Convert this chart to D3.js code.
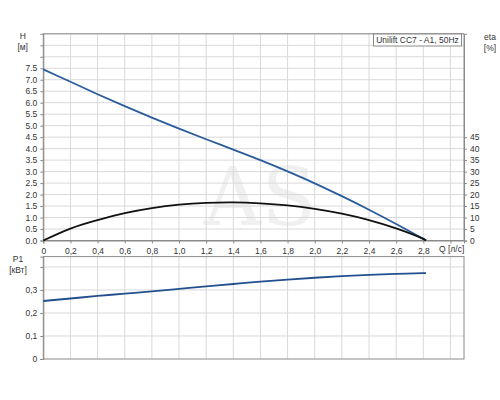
<!DOCTYPE html>
<html><head><meta charset="utf-8">
<script src="https://cdn.jsdelivr.net/npm/d3@7"></script>
<style>body{margin:0;background:#fff}svg text{font-family:"Liberation Sans",Arial,sans-serif}</style>
</head><body><svg id="c" width="500" height="400"></svg>
<script>
const qTicks = [0,0.2,0.4,0.6,0.8,1.0,1.2,1.4,1.6,1.8,2.0,2.2,2.4,2.6,2.8];
const qLabels = ["0","0,2","0,4","0,6","0,8","1,0","1,2","1,4","1,6","1,8","2,0","2,2","2,4","2,6","2,8"];
const hTicks = [0,0.5,1,1.5,2,2.5,3,3.5,4,4.5,5,5.5,6,6.5,7,7.5];
const etaTicks = [0,5,10,15,20,25,30,35,40,45];
const pTicks = [0,0.1,0.2,0.3];
const pLabels = ["0","0,1","0,2","0,3"];

const qPts   = [0,0.2,0.4,0.6,0.8,1.0,1.2,1.4,1.6,1.8,2.0,2.2,2.4,2.6,2.8,2.82];
const hVals  = [7.45,6.91,6.37,5.85,5.35,4.87,4.41,3.96,3.50,3.01,2.49,1.93,1.34,0.72,0.07,0];
const etaVals= [0,5.2,8.9,11.9,14.1,15.6,16.4,16.6,16.2,15.3,13.8,11.7,8.9,5.3,0.7,0];
const pVals  = [0.252,0.263,0.274,0.284,0.294,0.305,0.316,0.326,0.336,0.345,0.353,0.360,0.366,0.370,0.373,0.373];

const svg = d3.select("#c");
const L = 43.3, R = 464;
const x = d3.scaleLinear().domain([0,3.1]).range([L,R]);
const yH = d3.scaleLinear().domain([0,9]).range([240.5,33.8]);
const yE = d3.scaleLinear().domain([0,90]).range([240.5,33.8]);
const yP = d3.scaleLinear().domain([0,0.445]).range([359,256.6]);
const gridC = "#d9d9d9", frameC = "#8a8a8a", txtC = "#333";
const fs = 8.5;

// watermark
svg.append("text").attr("x",260).attr("y",225).attr("text-anchor","middle")
  .attr("font-size",80).attr("fill","#f0f0f0")
  .style("font-family","'DejaVu Serif',serif").text("AS");

function panel(y, yTicksGrid, top, bottom){
  const g = svg.append("g");
  g.selectAll(".vg").data(d3.range(1,16).map(i=>i*0.2)).join("line")
    .attr("x1",d=>x(d)).attr("x2",d=>x(d)).attr("y1",top).attr("y2",bottom)
    .attr("stroke",gridC).attr("stroke-width",1);
  g.selectAll(".hg").data(yTicksGrid).join("line")
    .attr("x1",L).attr("x2",R).attr("y1",d=>y(d)).attr("y2",d=>y(d))
    .attr("stroke",gridC).attr("stroke-width",1);
  g.append("rect").attr("x",L).attr("y",top).attr("width",R-L).attr("height",bottom-top)
    .attr("fill","none").attr("stroke",frameC).attr("stroke-width",1);
  return g;
}

const hGrid = d3.range(1,19).map(i=>i*0.5);
panel(yH, hGrid, 33.8, 240.5);
const pGrid = [0.1,0.2,0.3,0.4];
panel(yP, pGrid, 256.6, 359);

const axH = d3.axisLeft(yH).tickValues(hTicks.concat([8,8.5])).tickSize(3)
  .tickFormat(d=> d<=7.5 ? d.toFixed(1) : "");
const gH = svg.append("g").attr("transform",`translate(${L},0)`).call(axH);
const axE = d3.axisRight(yE).tickValues(etaTicks).tickSize(3).tickFormat(d3.format("d"));
const gE = svg.append("g").attr("transform",`translate(${R},0)`).call(axE);
const axQ = d3.axisBottom(x).tickValues(qTicks.concat([3.0])).tickSize(3)
  .tickFormat(d=>{const i=qTicks.indexOf(d);return i>=0?qLabels[i]:"";});
const gQ = svg.append("g").attr("transform",`translate(0,240.5)`).call(axQ);
const axP = d3.axisLeft(yP).tickValues(pTicks.concat([0.4])).tickSize(3)
  .tickFormat(d=>{const i=pTicks.indexOf(d);return i>=0?pLabels[i]:"";});
const gP = svg.append("g").attr("transform",`translate(${L},0)`).call(axP);

[gH,gE,gQ,gP].forEach(g=>{
  g.select(".domain").attr("stroke",frameC);
  g.selectAll(".tick line").attr("stroke",frameC);
  g.selectAll(".tick text").attr("fill",txtC).attr("font-size",fs)
    .style("font-family","'Liberation Sans',Arial,sans-serif");
});
gQ.selectAll(".tick text").attr("dy","0.9em");

const pts = (vals,y)=>qPts.map((q,i)=>[x(q),y(vals[i])]);
const line = d3.line().curve(d3.curveCatmullRom.alpha(0.5));
svg.append("path").attr("d",line(pts(hVals,yH))).attr("fill","none").attr("stroke","#2b5c9b").attr("stroke-width",1.8);
svg.append("path").attr("d",line(pts(etaVals,yE))).attr("fill","none").attr("stroke","#111").attr("stroke-width",1.8);
svg.append("path").attr("d",line(pts(pVals,yP))).attr("fill","none").attr("stroke","#22508e").attr("stroke-width",1.8);

function lbl(xp,yp,t,anchor){svg.append("text").attr("x",xp).attr("y",yp).attr("text-anchor",anchor||"middle")
  .attr("font-size",fs).attr("fill",txtC).text(t);}
lbl(22.7,39,"H"); lbl(22.7,50,"[м]");
lbl(490,40,"eta"); lbl(490,51,"[%]");
lbl(18,262,"P1"); lbl(18,273,"[кВт]");
lbl(439,252,"Q [л/с]","start");

svg.append("rect").attr("x",373.5).attr("y",34).attr("width",88).attr("height",12)
  .attr("fill","#fff").attr("stroke",frameC).attr("stroke-width",1);
lbl(417.5,43.2,"Unilift CC7 - A1, 50Hz");
</script></body></html>
